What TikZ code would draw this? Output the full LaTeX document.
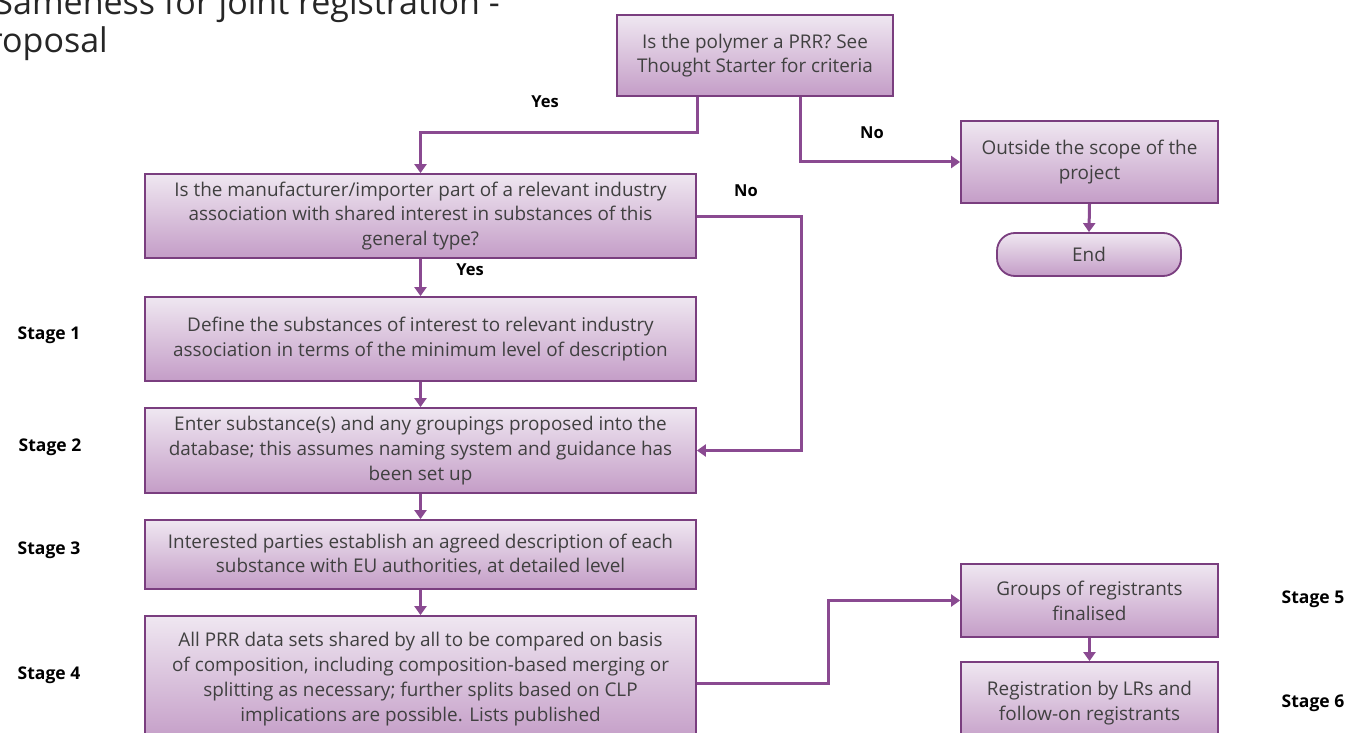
\documentclass[tikz,border=0pt]{standalone}
\usepackage{fontspec}
\setmainfont{Open Sans}
\usetikzlibrary{arrows.meta}
\definecolor{boxtop}{HTML}{EFE7F1}
\definecolor{boxbot}{HTML}{C49DC7}
\definecolor{boxline}{HTML}{7A3E7F}
\definecolor{conncol}{HTML}{8A4A91}
\definecolor{txtcol}{HTML}{404040}
\tikzset{
  x=1pt, y=-1pt,
  flowbox/.style={draw=boxline, line width=1.8pt, top color=boxtop, bottom color=boxbot,
    align=center, inner sep=0pt, text=txtcol,
    font=\fontsize{18.9}{24.8}\selectfont},
  endbox/.style={flowbox, rounded corners=18pt},
  conn/.style={draw=conncol, line width=3pt, -{Triangle[length=9pt,width=12pt]}},
  yn/.style={font=\fontsize{16.5}{18}\selectfont\bfseries, text=black},
  stagelbl/.style={font=\fontsize{17.5}{20}\selectfont\bfseries, text=black},
  titletxt/.style={font=\fontsize{34}{38}\selectfont, text=black!85, inner sep=0pt}
}
\begin{document}
\begin{tikzpicture}
\useasboundingbox (0,0) rectangle (1350,733);
\clip (0,0) rectangle (1350,733);
\fill[white] (0,0) rectangle (1350,733);

% title (cut off by the page edge, as in the reference)
\node[titletxt, anchor=base east] (t1) at (500,15) {Sameness for joint registration -};
\node[titletxt, anchor=base east] (t2) at (108,53) {proposal};

% boxes
\node[flowbox, minimum width=276pt, minimum height=81pt] (prr) at (755,55.5)
  {Is the polymer a PRR? See\\Thought Starter for criteria};
\node[flowbox, minimum width=257pt, minimum height=82pt] (outside) at (1089.5,162)
  {Outside the scope of the\\project};
\node[endbox, minimum width=184pt, minimum height=43pt] (end) at (1089,254.5) {End};

\node[flowbox, minimum width=551pt, minimum height=84pt] (manu) at (420.5,216)
  {Is the manufacturer/importer part of a relevant industry\\association with shared interest in substances of this\\general type?};
\node[flowbox, minimum width=551pt, minimum height=84pt] (define) at (420.5,339)
  {Define the substances of interest to relevant industry\\association in terms of the minimum level of description};
\node[flowbox, minimum width=551pt, minimum height=85pt] (enter) at (420.5,450.5)
  {Enter substance(s) and any groupings proposed into the\\database; this assumes naming system and guidance has\\been set up};
\node[flowbox, minimum width=551pt, minimum height=69pt] (interest) at (420.5,554.5)
  {Interested parties establish an agreed description of each\\substance with EU authorities, at detailed level};
\node[flowbox, minimum width=551pt, minimum height=126pt] (all) at (420.5,679)
  {All PRR data sets shared by all to be compared on basis\\of composition, including composition-based merging or\\splitting as necessary; further splits based on CLP\\implications are possible. Lists published};
\node[flowbox, minimum width=257pt, minimum height=73pt] (groups) at (1089.5,600.5)
  {Groups of registrants\\finalised};
\node[flowbox, minimum width=257pt, minimum height=82pt] (reg) at (1089.5,703)
  {Registration by LRs and\\follow-on registrants};

% connectors
\draw[conn] ([xshift=-58pt]prr.south) -- ++(0,36) -| (manu.north);
\draw[conn] ([xshift=45pt]prr.south) |- (outside.west);
\draw[conn] (outside.south) -- (end.north);
\draw[conn] (manu.east) -- ++(105,0) |- (enter.east);
\draw[conn] (manu.south) -- (define.north);
\draw[conn] (define.south) -- (enter.north);
\draw[conn] (enter.south) -- (interest.north);
\draw[conn] (interest.south) -- (all.north);
\draw[conn] ([yshift=-4pt]all.east) -- ++(132,0) |- (groups.west);
\draw[conn] (groups.south) -- (reg.north);

% yes/no labels
\node[yn] (y1) at (545,102) {Yes};
\node[yn] (n1) at (872,133) {No};
\node[yn] (n2) at (746,191) {No};
\node[yn] (y2) at (470,270) {Yes};

% stage labels
\node[stagelbl] (s1) at (49,335) {Stage 1};
\node[stagelbl] (s2) at (50,447) {Stage 2};
\node[stagelbl] (s3) at (49,550) {Stage 3};
\node[stagelbl] (s4) at (49,675) {Stage 4};
\node[stagelbl] (s5) at (1313,599) {Stage 5};
\node[stagelbl] (s6) at (1313,703) {Stage 6};
\end{tikzpicture}
\end{document}
